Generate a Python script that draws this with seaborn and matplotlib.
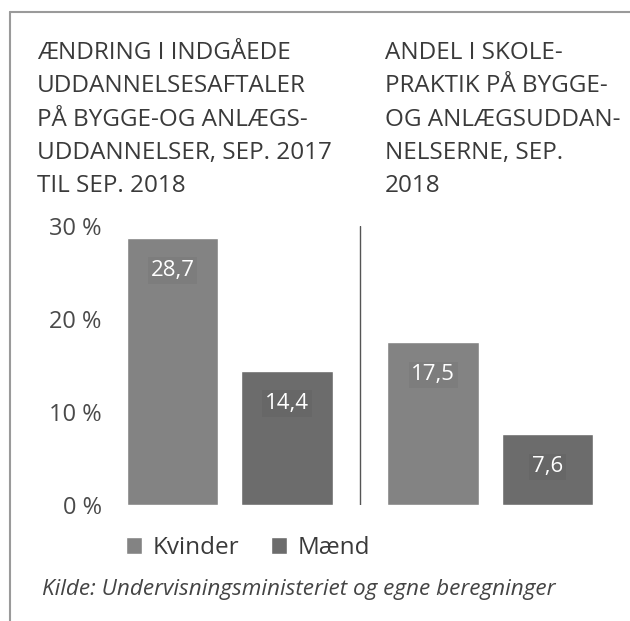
import pandas as pd
import matplotlib.pyplot as plt
import seaborn as sns
from matplotlib.lines import Line2D

# data
panels = ["Indgåede aftaler", "Skolepraktik"]
genders = ["Kvinder", "Mænd"]
kvinder = [28.7, 17.5]
maend = [14.4, 7.6]
yticks = [0, 10, 20, 30]

title_left = "ÆNDRING I INDGÅEDE\nUDDANNELSESAFTALER\nPÅ BYGGE-OG ANLÆGS-\nUDDANNELSER, SEP. 2017\nTIL SEP. 2018"
title_right = "ANDEL I SKOLE-\nPRAKTIK PÅ BYGGE-\nOG ANLÆGSUDDAN-\nNELSERNE, SEP.\n2018"
source = "Kilde: Undervisningsministeriet og egne beregninger"

df = pd.DataFrame({
    "panel": panels * 2,
    "køn": [genders[0]] * 2 + [genders[1]] * 2,
    "andel": kvinder + maend,
})

sns.set_theme(style="white")
plt.rcParams["font.family"] = ["Open Sans", "DejaVu Sans"]

colors = ["#838383", "#6c6c6c"]
text_col = "#3a3a3a"

fig = plt.figure(figsize=(6.3, 6.21), dpi=100)
ax = fig.add_axes([110 / 630, 1 - 505 / 621, 500 / 630, (505 - 226) / 621])

sns.barplot(data=df, x="panel", y="andel", hue="køn", palette=colors,
            width=0.877, gap=0.2, saturation=1, ax=ax, legend=True)

for cont in ax.containers:
    labels = [f"{b.get_height():.1f}".replace(".", ",") for b in cont]
    ax.bar_label(cont, labels=labels, padding=-31, color="white", fontsize=16,
                 bbox=dict(facecolor=(0, 0, 0, 0.04), edgecolor="none", pad=2))

ax.axvline(0.5, ymin=0, ymax=1.0, color="#555555", lw=1)
ax.set_xlim(-0.46, 1.46)
ax.set_ylim(0, 30)
ax.set_yticks(yticks)
ax.set_yticklabels([f"{t} %" for t in yticks], fontsize=17, color="#4a4a4a")
ax.set_xticks([])
ax.set_xlabel("")
ax.set_ylabel("")
ax.tick_params(axis="y", length=0, pad=6)
sns.despine(ax=ax, left=True, bottom=True)

ax.legend(loc="center left", bbox_to_anchor=(126 / 630, 1 - 548 / 621),
          bbox_transform=fig.transFigure, ncol=2, frameon=False, fontsize=17.5,
          handlelength=0.65, handleheight=0.65, handletextpad=0.45,
          columnspacing=1.3, borderpad=0, borderaxespad=0, labelcolor=text_col)

fig.text(37 / 630, 1 - 41 / 621, title_left, ha="left", va="top",
         fontsize=17.5, color=text_col, linespacing=1.52)
fig.text(385 / 630, 1 - 41 / 621, title_right, ha="left", va="top",
         fontsize=17.5, color=text_col, linespacing=1.52)
fig.text(42 / 630, 1 - 590 / 621, source, ha="left", va="center",
         fontsize=16.2, style="italic", color="#444444")

# frame: top and left border only
fig.add_artist(Line2D([10 / 630, 10 / 630], [1 - 12 / 621, 0], color="#9a9a9a", lw=1.5))
fig.add_artist(Line2D([10 / 630, 1], [1 - 12 / 621, 1 - 12 / 621], color="#9a9a9a", lw=1.5))

fig.savefig("out.png", dpi=100)
